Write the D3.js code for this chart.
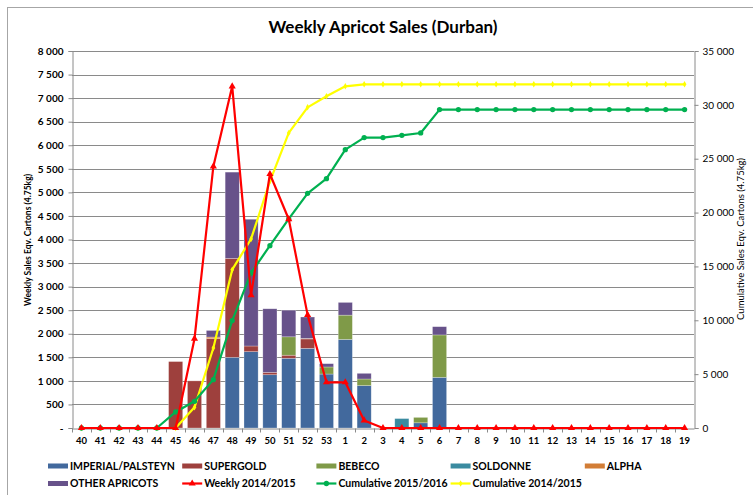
<!DOCTYPE html>
<html>
<head>
<meta charset="utf-8">
<script src="https://cdn.jsdelivr.net/npm/d3@7"></script>
<style>
  body { margin: 0; background: #fff; }
  svg text { font-family: Lato, 'Noto Sans', sans-serif; fill: #000; }
  .tick-left { font-size: 10px; font-weight: bold; }
  .tick-right { font-size: 10px; }
  .tick-x { font-size: 9.5px; font-weight: bold; }
  .legend-text { font-size: 10.5px; font-weight: bold; }
</style>
</head>
<body>
<div id="visualization"></div>
<script>
// week labels along the x axis (season runs 40..53 then 1..19)
const weeks = ['40', '41', '42', '43', '44', '45', '46', '47', '48', '49', '50', '51', '52', '53',
  '1', '2', '3', '4', '5', '6', '7', '8', '9', '10', '11', '12', '13', '14', '15', '16', '17', '18', '19']

// weekly cartons per cultivar (stacked bars)
const imperial = [0, 0, 0, 0, 0, 0, 0, 0, 1500, 1620, 1130, 1480, 1690, 1145, 1880, 900, 0, 0, 110, 1075,
  0, 0, 0, 0, 0, 0, 0, 0, 0, 0, 0, 0, 0]
const supergold = [0, 0, 0, 0, 0, 1410, 1000, 1900, 2100, 120, 50, 65, 200, 0, 0, 0, 0, 0, 0, 0,
  0, 0, 0, 0, 0, 0, 0, 0, 0, 0, 0, 0, 0]
const bebeco = [0, 0, 0, 0, 0, 0, 0, 0, 0, 0, 0, 390, 0, 150, 515, 140, 0, 0, 115, 900,
  0, 0, 0, 0, 0, 0, 0, 0, 0, 0, 0, 0, 0]
const soldonne = [0, 0, 0, 0, 0, 0, 0, 0, 0, 0, 0, 0, 0, 0, 0, 0, 0, 200, 0, 0,
  0, 0, 0, 0, 0, 0, 0, 0, 0, 0, 0, 0, 0]
const alpha = [0, 0, 0, 0, 0, 0, 0, 30, 0, 0, 0, 0, 10, 0, 0, 0, 0, 0, 0, 0,
  0, 0, 0, 0, 0, 0, 0, 0, 0, 0, 0, 0, 0]
const otherApricots = [0, 0, 0, 0, 0, 0, 0, 140, 1830, 2690, 1350, 565, 455, 70, 270, 120, 0, 0, 0, 175,
  0, 0, 0, 0, 0, 0, 0, 0, 0, 0, 0, 0, 0]

// lines
const weekly1415 = [0, 0, 0, 0, 0, 0, 1895, 5550, 7250, 2820, 5390, 4430, 2400, 970, 970, 160, 0, 0, 0, 0,
  0, 0, 0, 0, 0, 0, 0, 0, 0, 0, 0, 0, 0]
const cum1516 = [0, 0, 0, 0, 0, 1490, 2480, 4490, 9970, 14390, 16930, 19410, 21790, 23150, 25840, 26960,
  26960, 27170, 27390, 29560, 29560, 29560, 29560, 29560, 29560, 29560, 29560, 29560, 29560, 29560,
  29560, 29560, 29560]
const cum1415 = [0, 0, 0, 0, 0, 0, 1920, 7430, 14700, 17550, 22900, 27390, 29770, 30800, 31720, 31910,
  31910, 31910, 31910, 31910, 31910, 31910, 31910, 31910, 31910, 31910, 31910, 31910, 31910, 31910,
  31910, 31910, 31910]

const leftTicks = [0, 500, 1000, 1500, 2000, 2500, 3000, 3500, 4000, 4500, 5000, 5500, 6000, 6500, 7000, 7500, 8000]
const rightTicks = [0, 5000, 10000, 15000, 20000, 25000, 30000, 35000]

const cultivars = [
  { name: 'IMPERIAL/PALSTEYN', values: imperial, color: '#42699d' },
  { name: 'SUPERGOLD', values: supergold, color: '#9e403d' },
  { name: 'BEBECO', values: bebeco, color: '#7f9a48' },
  { name: 'SOLDONNE', values: soldonne, color: '#3a8ba0' },
  { name: 'ALPHA', values: alpha, color: '#d27d36' },
  { name: 'OTHER APRICOTS', values: otherApricots, color: '#67528a' }
]

const W = 753
const H = 495
const plot = { left: 72, right: 694, top: 51, bottom: 428 }

const svg = d3.select('#visualization').append('svg')
  .attr('id', 'canvas')
  .attr('width', W)
  .attr('height', H)

// chart border (only top and left edges fall inside the picture)
svg.append('rect')
  .attr('x', 7.5).attr('y', 7.5)
  .attr('width', W).attr('height', H)
  .attr('fill', 'none')
  .attr('stroke', '#a6a6a6')

const x = d3.scaleBand().domain(weeks).range([plot.left, plot.right]).paddingInner(0.25).paddingOuter(0.125)
const xc = d => x(d) + x.bandwidth() / 2
const yL = d3.scaleLinear().domain([0, 8000]).range([plot.bottom, plot.top])
const yR = d3.scaleLinear().domain([0, 35000]).range([plot.bottom, plot.top])

const fmt = v => (v === 0 ? '-' : d3.format(',')(v).replace(/,/g, ' '))
const fmtR = v => (v === 0 ? '0' : d3.format(',')(v).replace(/,/g, ' '))

// horizontal gridlines
svg.append('g')
  .selectAll('line')
  .data(leftTicks.slice(1))
  .join('line')
  .attr('x1', plot.left).attr('x2', plot.right)
  .attr('y1', d => Math.round(yL(d)) + 0.5).attr('y2', d => Math.round(yL(d)) + 0.5)
  .attr('stroke', '#8a8a8a')

// left axis
const leftAxis = svg.append('g')
  .attr('transform', `translate(${plot.left + 0.5},0)`)
  .call(d3.axisLeft(yL).tickValues(leftTicks).tickFormat(fmt).tickSize(4).tickPadding(5))
leftAxis.selectAll('text').attr('class', 'tick-left')
leftAxis.selectAll('line, path').attr('stroke', '#8a8a8a')

// right axis
const rightAxis = svg.append('g')
  .attr('transform', `translate(${plot.right + 0.5},0)`)
  .call(d3.axisRight(yR).tickValues(rightTicks).tickFormat(fmtR).tickSize(4).tickPadding(4))
rightAxis.selectAll('text').attr('class', 'tick-right')
rightAxis.selectAll('line, path').attr('stroke', '#8a8a8a')

// stacked bars
const table = weeks.map((w, i) => {
  const row = { week: w }
  cultivars.forEach(c => { row[c.name] = c.values[i] })
  return row
})
const stack = d3.stack().keys(cultivars.map(c => c.name))(table)

svg.append('g')
  .selectAll('g')
  .data(stack)
  .join('g')
  .attr('fill', (d, i) => cultivars[i].color)
  .selectAll('rect')
  .data(d => d.filter(s => s[1] - s[0] > 0))
  .join('rect')
  .attr('x', d => x(d.data.week))
  .attr('width', x.bandwidth())
  .attr('y', d => yL(d[1]))
  .attr('height', d => yL(d[0]) - yL(d[1]))
  .attr('stroke', 'rgba(255,255,255,0.45)')
  .attr('stroke-width', 0.6)

// x axis
const xAxis = svg.append('g')
  .attr('transform', `translate(0,${plot.bottom + 0.5})`)
  .call(d3.axisBottom(x).tickSize(0).tickPadding(9))
xAxis.selectAll('text').attr('class', 'tick-x')
xAxis.select('path').attr('stroke', '#8a8a8a')
xAxis.append('g')
  .selectAll('line')
  .data(weeks)
  .join('line')
  .attr('x1', d => Math.round(x(d) - x.step() * 0.125) + 0.5)
  .attr('x2', d => Math.round(x(d) - x.step() * 0.125) + 0.5)
  .attr('y1', 0).attr('y2', 4)
  .attr('stroke', '#8a8a8a')

// line series
const series = [
  { name: 'Weekly 2014/2015', values: weekly1415, scale: yL, color: '#ff0000', marker: d3.symbolTriangle, size: 22 },
  { name: 'Cumulative 2015/2016', values: cum1516, scale: yR, color: '#00b050', marker: d3.symbolCircle, size: 22 },
  { name: 'Cumulative 2014/2015', values: cum1415, scale: yR, color: '#ffff00', marker: d3.symbolDiamond, size: 12 }
]

series.slice().reverse().forEach(s => {
  const g = svg.append('g')
  g.append('path')
    .datum(s.values)
    .attr('fill', 'none')
    .attr('stroke', s.color)
    .attr('stroke-width', 2.2)
    .attr('stroke-linejoin', 'round')
    .attr('d', d3.line().x((d, i) => xc(weeks[i])).y(d => s.scale(d)))
  g.selectAll('path.marker')
    .data(s.values)
    .join('path')
    .attr('class', 'marker')
    .attr('transform', (d, i) => `translate(${xc(weeks[i])},${s.scale(d)})`)
    .attr('d', d3.symbol(s.marker, s.size))
    .attr('fill', s.color)
})

// title
svg.append('text')
  .attr('x', 383).attr('y', 33)
  .attr('text-anchor', 'middle')
  .style('font-size', '17px')
  .style('font-weight', 'bold')
  .text('Weekly Apricot Sales (Durban)')

// axis titles
svg.append('text')
  .attr('transform', 'translate(31,240) rotate(-90)')
  .attr('text-anchor', 'middle')
  .style('font-size', '8.5px')
  .style('font-weight', 'bold')
  .text('Weekly Sales Eqv. Cartons (4.75kg)')

svg.append('text')
  .attr('transform', 'translate(744,239) rotate(-90)')
  .attr('text-anchor', 'middle')
  .style('font-size', '9.5px')
  .text('Cumulative Sales Eqv. Cartons (4.75kg)')

// legend
const legendItems = cultivars.map(c => ({ name: c.name, color: c.color, type: 'bar' }))
  .concat(series.map(s => ({ name: s.name, color: s.color, type: 'line', marker: s.marker, size: s.size })))

const legend = svg.append('g')
  .selectAll('g')
  .data(legendItems)
  .join('g')
  .attr('transform', (d, i) => `translate(${48 + (i % 5) * 134.2},${i < 5 ? 466 : 483.5})`)

legend.filter(d => d.type === 'bar')
  .append('rect')
  .attr('x', 0).attr('y', -2.5)
  .attr('width', 20).attr('height', 5)
  .attr('fill', d => d.color)

legend.filter(d => d.type === 'line')
  .append('line')
  .attr('x1', 0).attr('x2', 20)
  .attr('stroke', d => d.color)
  .attr('stroke-width', 2.2)

legend.filter(d => d.type === 'line')
  .append('path')
  .attr('transform', 'translate(10,0)')
  .attr('d', d => d3.symbol(d.marker, d.size)())
  .attr('fill', d => d.color)

legend.append('text')
  .attr('class', 'legend-text')
  .attr('x', 22).attr('y', 3.8)
  .text(d => d.name)
</script>
</body>
</html>
